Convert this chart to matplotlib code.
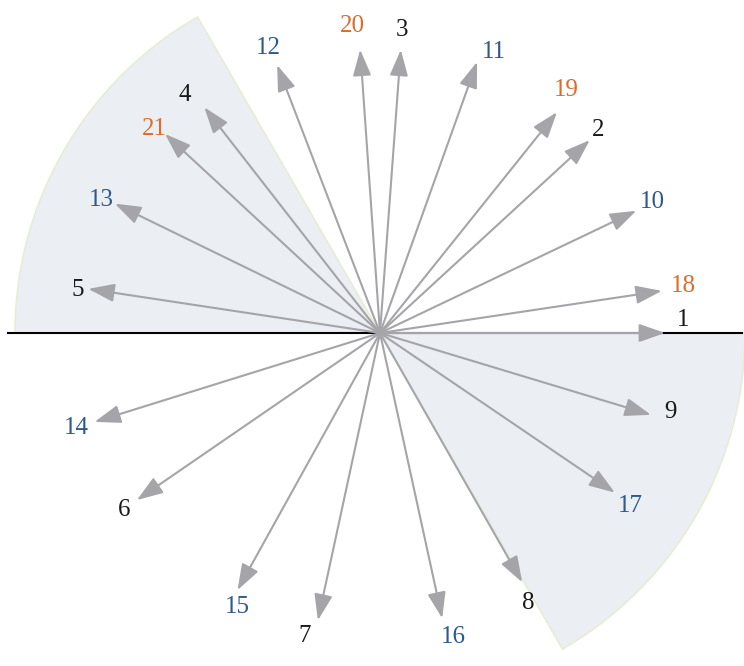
import numpy as np
import matplotlib
matplotlib.use("Agg")
import matplotlib.pyplot as plt
from matplotlib.patches import Wedge

# Données (angles en degrés, longueurs en pixels)
labels = [str(k) for k in range(1, 22)]
angles = [0, 42.6, 85.8, 127.9, 171.4, 214.5, 257.8, 299.7, 343.2,
          25.5, 70.3, 111.0, 154.0, 197.3, 241.0, 282.3, 325.8,
          8.5, 51.3, 94.0, 137.2]
longueurs = [285, 285, 284, 286, 295, 295, 294, 287, 283,
             284, 288, 287, 295, 299, 294, 292, 284,
             285, 283, 284, 293]
# position des étiquettes (angle en degrés, rayon en pixels)
angles_etiq = [2.5, 43.0, 85.8, 129.3, 171.9, 214.7, 256.1, 298.7, 344.8,
               25.7, 67.9, 111.3, 154.5, 197.4, 242.6, 283.5, 325.3,
               8.8, 52.6, 95.2, 137.9]
rayons_etiq = [303, 298, 304, 308, 305, 311, 312, 308, 301,
               302, 303, 306, 309, 318, 309, 313, 304,
               307, 306, 308, 304]
groupes = ["a"] * 9 + ["b"] * 8 + ["c"] * 4

# Secteurs grisés (degrés)
secteurs = [(120, 180), (300, 360)]
rayon_secteur = 365

couleurs = {"a": "#1a1a1a", "b": "#2d5a8c", "c": "#dc6b2c"}

fig = plt.figure(figsize=(7.44, 6.66), dpi=100)
ax = fig.add_axes([0, 0, 1, 1])
ax.set_xlim(-380, 364)
ax.set_ylim(-333, 333)
ax.set_aspect("equal")
ax.axis("off")

for a1, a2 in secteurs:
    ax.add_patch(Wedge((0, 0), rayon_secteur, a1, a2, facecolor="#ebeef3",
                       edgecolor="#e6edd6", lw=1.2, zorder=1))

ax.plot([-372, 362], [0, 0], color="black", lw=1.5, zorder=2)

for lab, ang, L, g, ae, re in zip(labels, angles, longueurs, groupes,
                                  angles_etiq, rayons_etiq):
    t = np.deg2rad(ang)
    x, y = L * np.cos(t), L * np.sin(t)
    ax.annotate("", xy=(x, y), xytext=(0, 0),
                arrowprops=dict(arrowstyle="-|>,head_length=0.8,head_width=0.28",
                                mutation_scale=20, color="#a5a5a9", lw=1.5,
                                shrinkA=0, shrinkB=0),
                zorder=3)
    te = np.deg2rad(ae)
    ax.text(re * np.cos(te), re * np.sin(te), lab, fontsize=18,
            family="Liberation Serif", color=couleurs[g],
            ha="center", va="center", zorder=4)

fig.savefig("out.png", dpi=100)
